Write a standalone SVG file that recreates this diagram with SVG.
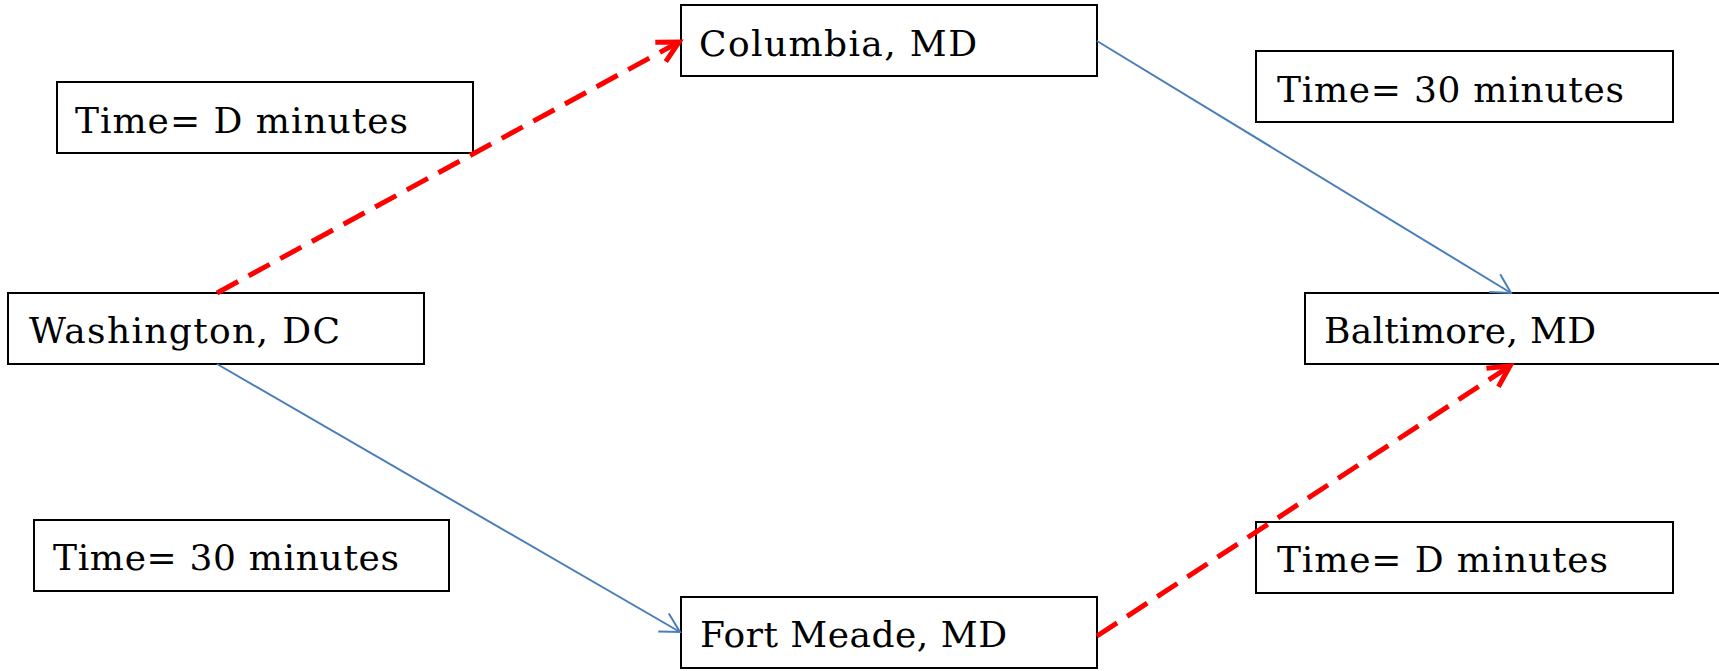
<svg xmlns="http://www.w3.org/2000/svg" width="1719" height="671" viewBox="0 0 1719 671">
  <style>
    .box { fill: #ffffff; stroke: #000000; stroke-width: 2; }
    .lbl { font-family: "DejaVu Serif", "Liberation Serif", serif; font-size: 36px; fill: #000000; }
    .blue { fill: none; stroke: #4A7EBB; stroke-width: 2; }
    .red { fill: none; stroke: #FF0000; stroke-width: 5; stroke-dasharray: 24 12; }
  </style>
  <defs>
    <marker id="arrBlue" markerUnits="userSpaceOnUse" orient="auto" refX="0" refY="0" markerWidth="40" markerHeight="40" overflow="visible">
      <path d="M-19,-10.5 L0,0 L-19,10.5" fill="none" stroke="#4A7EBB" stroke-width="2" stroke-dasharray="none"/>
    </marker>
    <marker id="arrRed" markerUnits="userSpaceOnUse" orient="auto" refX="0" refY="0" markerWidth="40" markerHeight="40" overflow="visible">
      <path d="M-21,-11 L0,0 L-21,11" fill="none" stroke="#FF0000" stroke-width="5" stroke-dasharray="none" stroke-linejoin="miter"/>
    </marker>
  </defs>

  <g id="label-time-d-top">
    <rect class="box" x="57" y="82" width="416" height="71"/>
    <text class="lbl" x="75" y="133" textLength="333">Time= D minutes</text>
  </g>
  <g id="node-columbia">
    <rect class="box" x="681" y="5" width="416" height="71"/>
    <text class="lbl" x="699" y="56" textLength="278">Columbia, MD</text>
  </g>
  <g id="label-time-30-top">
    <rect class="box" x="1256" y="51" width="417" height="71"/>
    <text class="lbl" x="1277" y="102" textLength="347">Time= 30 minutes</text>
  </g>
  <g id="node-washington">
    <rect class="box" x="8" y="293" width="416" height="71"/>
    <text class="lbl" x="29" y="343" textLength="311">Washington, DC</text>
  </g>
  <g id="node-baltimore">
    <rect class="box" x="1305" y="293" width="420" height="71"/>
    <text class="lbl" x="1324" y="343" textLength="272">Baltimore, MD</text>
  </g>
  <g id="label-time-30-bottom">
    <rect class="box" x="34" y="520" width="415" height="71"/>
    <text class="lbl" x="53" y="570" textLength="346">Time= 30 minutes</text>
  </g>
  <g id="node-fort-meade">
    <rect class="box" x="681" y="597" width="416" height="71"/>
    <text class="lbl" x="700" y="647" textLength="307">Fort Meade, MD</text>
  </g>
  <g id="label-time-d-bottom">
    <rect class="box" x="1256" y="522" width="417" height="71"/>
    <text class="lbl" x="1277" y="572" textLength="331">Time= D minutes</text>
  </g>

  <g id="connectors">
    <line class="red" x1="217" y1="293" x2="679" y2="42" marker-end="url(#arrRed)"/>
    <line class="blue" x1="1097" y1="41" x2="1511" y2="293" marker-end="url(#arrBlue)"/>
    <line class="blue" x1="217" y1="364" x2="680" y2="632" marker-end="url(#arrBlue)"/>
    <line class="red" x1="1097" y1="636" x2="1510" y2="366" marker-end="url(#arrRed)"/>
  </g>
</svg>
